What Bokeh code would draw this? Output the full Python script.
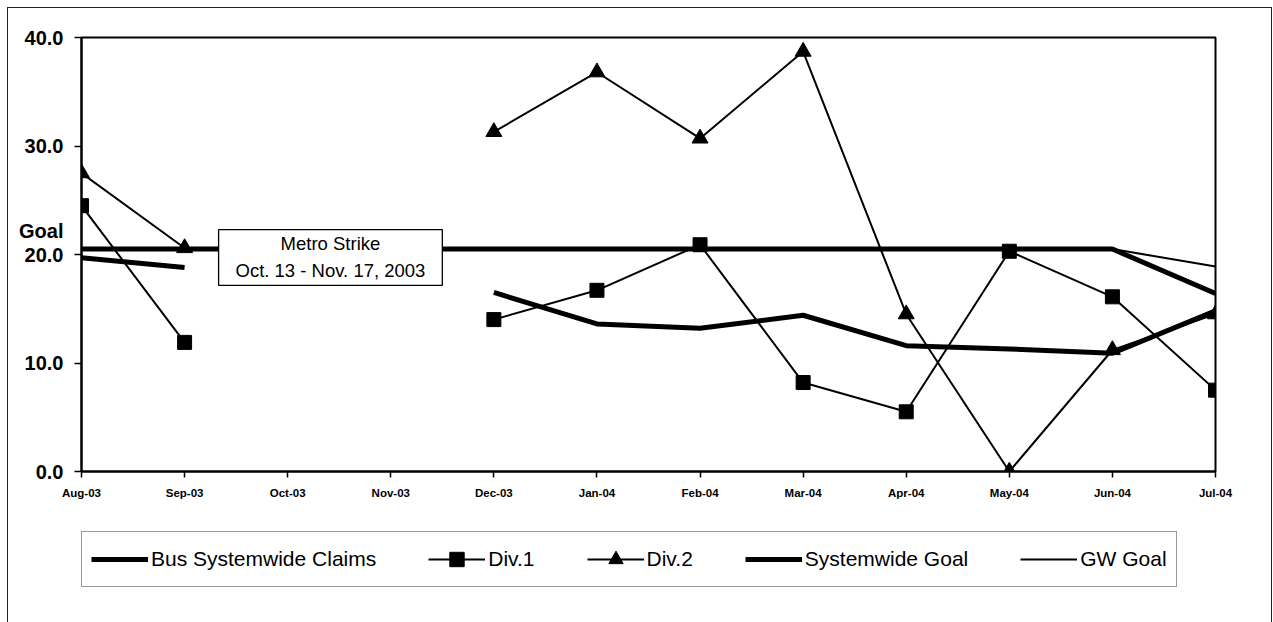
from bokeh.plotting import figure
from bokeh.layouts import column
from bokeh.models import (Legend, LegendItem, FixedTicker, BoxAnnotation, Label,
                          Range1d, InlineStyleSheet)
from bokeh.embed import file_html
from bokeh.resources import INLINE

nan = float("nan")

months = ["Aug-03", "Sep-03", "Oct-03", "Nov-03", "Dec-03", "Jan-04",
          "Feb-04", "Mar-04", "Apr-04", "May-04", "Jun-04", "Jul-04"]
bus_claims = [19.7, 18.8, nan, nan, 16.5, 13.6, 13.2, 14.4, 11.6, 11.3, 10.9, 14.8]
div1 = [24.5, 11.9, nan, nan, 14.0, 16.7, 20.9, 8.2, 5.5, 20.3, 16.1, 7.5]
div2 = [27.5, 20.6, nan, nan, 31.3, 36.8, 30.7, 38.7, 14.5, 0.0, 11.2, 14.5]
systemwide_goal = [20.5, 20.5, 20.5, 20.5, 20.5, 20.5, 20.5, 20.5, 20.5, 20.5, 20.5, 16.4]
gw_goal = [20.5, 20.5, 20.5, 20.5, 20.5, 20.5, 20.5, 20.5, 20.5, 20.5, 20.5, 18.9]
y_ticks = [0, 10, 20, 30, 40]
y_tick_labels = ["0.0", "10.0", "Goal\n20.0\n ", "30.0", "40.0"]
series_names = ["Bus Systemwide Claims", "Div.1", "Div.2", "Systemwide Goal", "GW Goal"]

x = list(range(len(months)))
x_max = len(months) - 1
y_max = y_ticks[-1]

W, H = 1273, 622
TOP, LEFT, RIGHT, AXIS_H = 37, 81, 58, 40
FRAME_W, FRAME_H = W - LEFT - RIGHT, 434
LEG_H = H - (TOP + FRAME_H + AXIS_H)

page_border = InlineStyleSheet(css="""
:host { position: relative; }
:host::after { content: ""; position: absolute; left: 7px; top: 7px; right: 1px; bottom: 0px;
  border-left: 1px solid #222; border-top: 1px solid #222; border-right: 1px solid #222;
  pointer-events: none; z-index: 10; }
""")

p = figure(frame_width=FRAME_W, frame_height=FRAME_H, output_backend="svg",
           toolbar_location=None,
           x_range=Range1d(0, x_max), y_range=Range1d(0, y_max),
           min_border_left=LEFT, min_border_right=RIGHT, min_border_top=TOP,
           min_border_bottom=AXIS_H)
p.grid.visible = False
p.outline_line_color = "black"
p.outline_line_width = 2
p.background_fill_color = "white"
p.border_fill_color = "white"

# axes
p.xaxis.ticker = FixedTicker(ticks=x)
p.xaxis.major_label_overrides = {i: m for i, m in enumerate(months)}
p.xaxis.major_label_text_font = "Liberation Sans"
p.xaxis.major_label_text_font_style = "bold"
p.xaxis.major_label_text_font_size = "11.5px"
p.xaxis.major_label_standoff = 9
p.yaxis.ticker = FixedTicker(ticks=y_ticks)
p.yaxis.major_label_overrides = {t: s for t, s in zip(y_ticks, y_tick_labels)}
p.yaxis.major_label_text_font = "Liberation Sans"
p.yaxis.major_label_text_font_style = "bold"
p.yaxis.major_label_text_font_size = "20px"
p.yaxis.major_label_text_line_height = 1.05
p.yaxis.major_label_standoff = 11
for ax in (p.xaxis, p.yaxis):
    ax.axis_line_width = 2
    ax.axis_line_color = "black"
    ax.major_tick_line_color = "black"
    ax.major_tick_line_width = 1.5
    ax.major_tick_in = 0
    ax.minor_tick_line_color = None
    ax.major_label_text_color = "black"
p.xaxis.major_tick_out = 6
p.yaxis.major_tick_out = 7

# series styles (shared by the plot and the legend strip)
styles = [
    dict(line_width=5, marker=None),
    dict(line_width=2, marker="square"),
    dict(line_width=2, marker="triangle"),
    dict(line_width=5, marker=None),
    dict(line_width=2, marker=None),
]
marker_size = {"square": 14, "triangle": 16}
values = [bus_claims, div1, div2, systemwide_goal, gw_goal]

for vals, st in zip(values, styles):
    p.line(x, vals, line_color="black", line_width=st["line_width"], line_join="round")
    if st["marker"]:
        p.scatter(x, vals, marker=st["marker"], size=marker_size[st["marker"]],
                  fill_color="black", line_color="black")

# strike annotation
box = BoxAnnotation(left=1.33, right=3.5, top=22.3, bottom=17.15,
                    fill_color="white", fill_alpha=1.0,
                    line_color="black", line_alpha=1.0, line_width=1.3)
p.add_layout(box)
p.add_layout(Label(x=2.415, y=19.75, text="Metro Strike\nOct. 13 - Nov. 17, 2003",
                   text_align="center", text_baseline="middle",
                   text_font="Liberation Sans", text_font_size="18.5px",
                   text_line_height=1.3, text_color="black"))

# legend strip below the chart (key-only renderers hold a single NaN so nothing plots)
p2 = figure(width=W, height=LEG_H, output_backend="svg", toolbar_location=None,
            x_range=Range1d(0, W), y_range=Range1d(0, LEG_H),
            x_axis_location=None, y_axis_location=None,
            min_border=0)
p2.grid.visible = False
p2.outline_line_color = None
p2.background_fill_color = "white"
p2.border_fill_color = "white"

items = []
for name, st in zip(series_names, styles):
    rs = [p2.line([nan], [nan], line_color="black", line_width=st["line_width"])]
    if st["marker"]:
        rs.append(p2.scatter([nan], [nan], marker=st["marker"],
                             size=marker_size[st["marker"]],
                             fill_color="black", line_color="black"))
    items.append(LegendItem(label=name, renderers=rs))

legend = Legend(items=items, orientation="horizontal", location=(0, LEG_H - 76),
                glyph_width=57, glyph_height=36, label_height=36, label_standoff=3,
                spacing=52, padding=9, margin=0,
                label_text_font="Liberation Sans", label_text_font_size="21px",
                label_text_color="black",
                border_line_color="#333333", border_line_width=1.2,
                background_fill_color="white", background_fill_alpha=1.0)
p2.add_layout(legend)

layout = column(p, p2, spacing=0, stylesheets=[page_border])
open("out.html", "w").write(file_html(layout, INLINE))
